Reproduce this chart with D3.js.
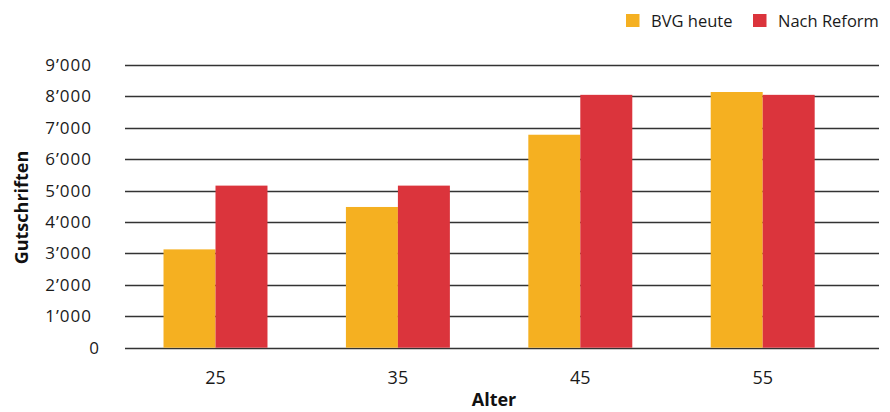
<!DOCTYPE html>
<html>
<head>
<meta charset="utf-8">
<script src="https://cdn.jsdelivr.net/npm/d3@7"></script>
<style>
  html, body { margin: 0; padding: 0; background: #fff; }
  svg { display: block; font-family: "Open Sans", "Noto Sans", sans-serif; }
</style>
</head>
<body>
<svg id="chart" width="890" height="412"></svg>
<script>
// Altersgruppen und jährliche Gutschriften (CHF)
const ages = ["25", "35", "45", "55"];
const bvgHeute = [3130, 4480, 6780, 8140];
const nachReform = [5160, 5160, 8050, 8050];
const seriesNames = ["BVG heute", "Nach Reform"];
const seriesColors = ["#F5B021", "#DB343C"];
const yTicks = [0, 1000, 2000, 3000, 4000, 5000, 6000, 7000, 8000, 9000];

const svg = d3.select("#chart");

const x0 = d3.scaleBand()
  .domain(ages)
  .range([124.3, 853.9])
  .paddingInner(0.43)
  .paddingOuter(0.215);

const x1 = d3.scaleBand()
  .domain(seriesNames)
  .range([0, x0.bandwidth()]);

const y = d3.scaleLinear()
  .domain([0, 9000])
  .range([347.7, 65]);

// Swiss thousands separator with a typographic apostrophe
const fmt = d => d === 0 ? "0" : d3.format(",")(d).replace(/,/g, "\u2019");

// Horizontal gridlines
svg.append("g")
  .selectAll("line")
  .data(yTicks)
  .join("line")
  .attr("x1", 125)
  .attr("x2", 879)
  .attr("y1", d => Math.round(y(d)) + 0.5)
  .attr("y2", d => Math.round(y(d)) + 0.5)
  .attr("stroke", "#333")
  .attr("stroke-width", 1.3);

// Y axis labels
const yAxis = d3.axisLeft(y).tickValues(yTicks).tickFormat(fmt).tickSize(0).tickPadding(0);
const yG = svg.append("g").attr("transform", "translate(92,0)").call(yAxis);
yG.select(".domain").remove();
yG.selectAll("text")
  .attr("font-size", 17)
  .attr("letter-spacing", 1)
  .attr("fill", "#1a1a1a")
  .attr("font-family", "'Open Sans', sans-serif")
  .attr("dx", d => d === 0 ? 8 : 0);

// Bars
const rows = ages.map((a, i) => ({ age: a, values: [bvgHeute[i], nachReform[i]] }));
const groups = svg.append("g")
  .selectAll("g")
  .data(rows)
  .join("g")
  .attr("transform", d => `translate(${x0(d.age)},0)`);

groups.selectAll("rect")
  .data(d => d.values.map((v, j) => ({ key: seriesNames[j], value: v, color: seriesColors[j] })))
  .join("rect")
  .attr("x", d => x1(d.key))
  .attr("width", x1.bandwidth())
  .attr("y", d => y(d.value))
  .attr("height", d => y(0) - y(d.value))
  .attr("fill", d => d.color);

// X axis labels
const xAxis = d3.axisBottom(x0).tickSize(0).tickPadding(0);
const xG = svg.append("g").attr("transform", "translate(0,384)").call(xAxis);
xG.select(".domain").remove();
xG.selectAll("text")
  .attr("dy", 0)
  .attr("font-size", 18)
  .attr("fill", "#1a1a1a")
  .attr("font-family", "'Open Sans', sans-serif");

// Axis titles
svg.append("text")
  .attr("x", 494)
  .attr("y", 406)
  .attr("text-anchor", "middle")
  .attr("font-size", 18)
  .attr("font-weight", "bold")
  .attr("fill", "#111")
  .text("Alter");

svg.append("text")
  .attr("transform", "translate(28,207.5) rotate(-90)")
  .attr("text-anchor", "middle")
  .attr("font-size", 18)
  .attr("font-weight", "bold")
  .attr("fill", "#111")
  .text("Gutschriften");

// Legend
const legendX = [626, 753];
const legend = svg.append("g")
  .selectAll("g")
  .data(seriesNames)
  .join("g")
  .attr("transform", (d, i) => `translate(${legendX[i]},14)`);
legend.append("rect")
  .attr("width", 13.5)
  .attr("height", 13)
  .attr("fill", (d, i) => seriesColors[i]);
legend.append("text")
  .attr("x", 25)
  .attr("y", 12.5)
  .attr("font-size", 16.5)
  .attr("fill", "#1a1a1a")
  .text(d => d);
</script>
</body>
</html>
